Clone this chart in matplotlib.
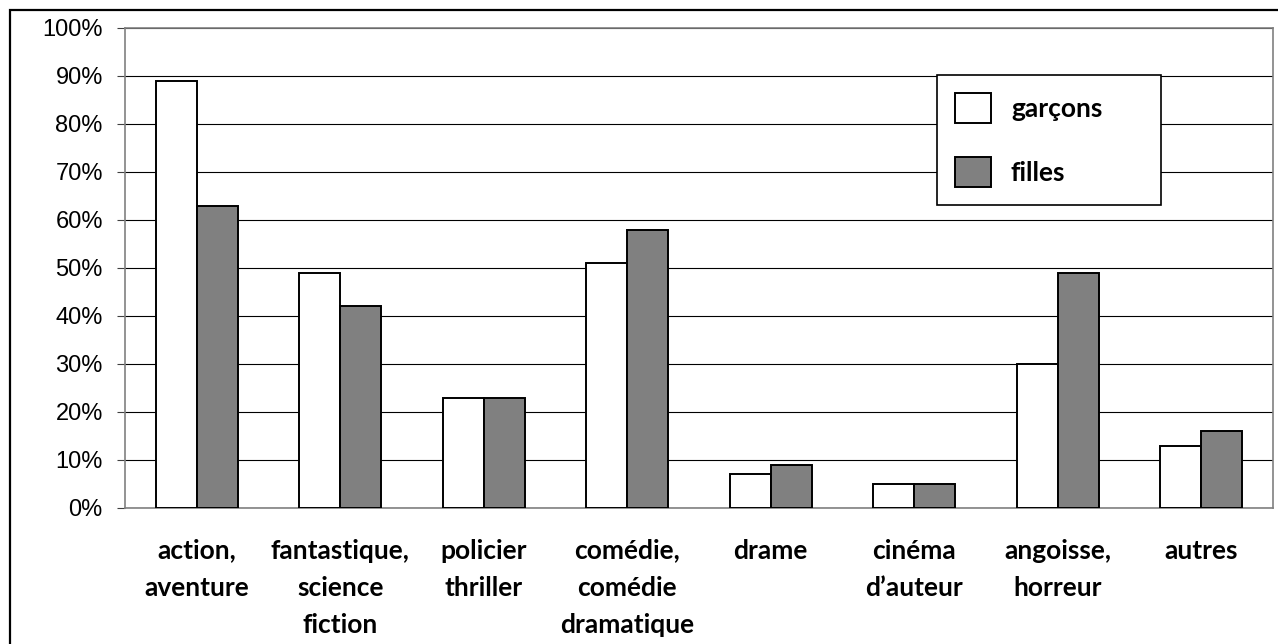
import numpy as np
import matplotlib
matplotlib.use('Agg')
import matplotlib.pyplot as plt
from matplotlib.patches import Rectangle
from matplotlib.ticker import MultipleLocator, PercentFormatter

# Data
categories = ['action,\naventure', 'fantastique,\nscience\nfiction', 'policier\nthriller',
              'comédie,\ncomédie\ndramatique', 'drame', 'cinéma\nd\u2019auteur',
              'angoisse,\nhorreur', 'autres']
garcons = [89, 49, 23, 51, 7, 5, 30, 13]
filles = [63, 42, 23, 58, 9, 5, 49, 16]
series_names = ['garçons', 'filles']

W, H = 1278, 644
fig = plt.figure(figsize=(W / 100, H / 100), dpi=100)
fig.patch.set_facecolor('white')

# outer frame (cut off on the right and bottom like the scan)
fig.patches.append(Rectangle((10 / W, -0.05), 1.2, 1 - 10 / H + 0.05,
                             transform=fig.transFigure, fill=False,
                             edgecolor='black', linewidth=1.6, zorder=0))

ax = fig.add_axes([125 / W, 1 - 508 / H, (1273 - 125) / W, (508 - 28) / H])

x = np.arange(len(categories))
bw = 0.286
ax.bar(x - bw / 2, garcons, bw, color='white', edgecolor='black', linewidth=1.4,
       label=series_names[0], zorder=3)
ax.bar(x + bw / 2, filles, bw, color='#808080', edgecolor='black', linewidth=1.4,
       label=series_names[1], zorder=3)

ax.set_xlim(-0.5, len(categories) - 0.5)
ax.set_ylim(0, 100)
ax.yaxis.set_major_locator(MultipleLocator(10))
ax.yaxis.set_major_formatter(PercentFormatter(decimals=0))
ax.grid(axis='y', color='black', linewidth=0.8, zorder=0)

for s in ax.spines.values():
    s.set_color('#808080')
    s.set_linewidth(1.2)

ax.tick_params(axis='y', direction='out', length=6, width=0.8, color='#404040',
               labelsize=17, pad=10)
for lab in ax.get_yticklabels():
    lab.set_family(['Liberation Sans', 'DejaVu Sans'])

lab_font = 19
ax.set_xticks(x)
ax.set_xticklabels(categories, fontsize=lab_font, fontweight='bold',
                   family=['Lato', 'DejaVu Sans'], linespacing=1.67, va='top')
ax.tick_params(axis='x', length=0, pad=22)

leg = ax.legend(loc='upper left',
                bbox_to_anchor=(937 / W, 1 - 205 / H, (1161 - 937) / W, 130 / H),
                bbox_transform=fig.transFigure, mode='expand', fancybox=False,
                edgecolor='black', framealpha=1, borderpad=0.7, borderaxespad=0,
                handlelength=1.35, handleheight=1.35, handletextpad=0.75, labelspacing=1.3,
                prop={'family': ['Lato', 'DejaVu Sans'], 'weight': 'bold', 'size': lab_font})
leg.get_frame().set_linewidth(1.2)
leg.set_zorder(5)

fig.savefig('out.png', dpi=100, facecolor='white')
